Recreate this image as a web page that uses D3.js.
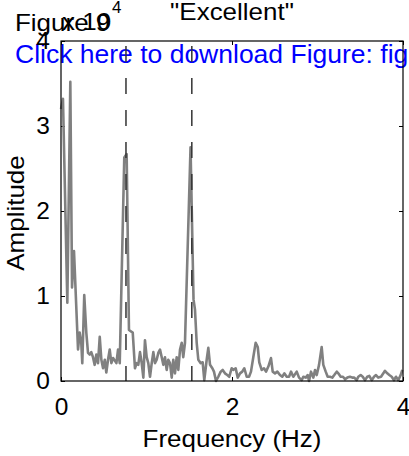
<!DOCTYPE html>
<html>
<head>
<meta charset="utf-8">
<script src="https://cdn.jsdelivr.net/npm/d3@7"></script>
<style>
  html, body { margin:0; padding:0; background:#fff; }
  svg { display:block; font-family:"Liberation Sans", Arial, Helvetica, sans-serif; }
</style>
</head>
<body>
<svg width="409" height="456"></svg>
<script>
// spectrum (amplitude in units of 10^4)
const freq = [
  0.000,0.023,0.074,0.109,0.129,0.152,0.199,0.218,0.237,0.249,
  0.272,0.296,0.316,0.336,0.354,0.374,0.394,0.413,0.433,0.453,
  0.472,0.492,0.512,0.530,0.550,0.570,0.589,0.609,0.629,0.648,
  0.667,0.687,0.740,0.768,0.795,0.839,0.865,0.885,0.904,0.924,
  0.944,0.963,0.982,1.002,1.021,1.041,1.061,1.080,1.099,1.119,
  1.138,1.158,1.178,1.197,1.216,1.236,1.255,1.275,1.295,1.313,
  1.333,1.353,1.372,1.392,1.412,1.430,1.450,1.515,1.550,1.567,
  1.587,1.606,1.634,1.657,1.676,1.704,1.723,1.743,1.770,1.789,
  1.813,1.840,1.868,1.891,1.918,1.945,1.968,1.996,2.015,2.043,
  2.067,2.094,2.120,2.144,2.172,2.199,2.222,2.249,2.277,2.301,
  2.319,2.347,2.374,2.398,2.425,2.456,2.476,2.503,2.530,2.561,
  2.588,2.612,2.640,2.667,2.690,2.717,2.757,2.784,2.815,2.834,
  2.862,2.885,2.901,2.924,2.951,2.971,2.991,3.018,3.049,3.068,
  3.096,3.119,3.146,3.173,3.196,3.225,3.243,3.271,3.298,3.322,
  3.349,3.380,3.407,3.430,3.458,3.477,3.505,3.529,3.556,3.582,
  3.606,3.634,3.661,3.684,3.711,3.743,3.770,3.789,3.816,3.840,
  3.868,3.895,3.918,3.945,3.973,3.992
];
const amp = [
  3.20,3.32,0.92,3.52,1.10,1.53,0.37,0.57,0.45,0.21,
  1.01,0.57,0.33,0.31,0.34,0.28,0.19,0.31,0.21,0.52,
  0.25,0.15,0.25,0.10,0.25,0.37,0.21,0.27,0.24,0.21,
  0.37,0.21,2.63,2.67,0.60,0.57,0.15,0.21,0.19,0.34,
  0.21,0.04,0.48,0.28,0.21,0.05,0.21,0.34,0.21,0.25,
  0.33,0.37,0.28,0.19,0.28,0.13,0.25,0.21,0.04,0.25,
  0.09,0.28,0.13,0.37,0.45,0.28,0.45,2.75,0.96,0.84,
  0.45,0.25,0.21,0.22,0.01,0.25,0.39,0.19,0.15,0.11,
  0.00,0.05,0.11,0.13,0.09,0.07,0.05,0.15,0.13,0.15,
  0.04,0.09,0.11,0.15,0.05,0.05,0.11,0.28,0.45,0.40,
  0.22,0.13,0.15,0.11,0.17,0.27,0.11,0.09,0.11,0.07,
  0.05,0.09,0.05,0.05,0.11,0.05,0.11,0.04,0.01,0.05,
  0.04,0.07,0.00,0.11,0.04,0.13,0.07,0.19,0.40,0.19,
  0.11,0.05,0.05,0.04,0.07,0.11,0.09,0.05,0.05,0.02,
  0.04,0.05,0.04,0.04,0.01,0.05,0.07,0.05,0.01,0.05,
  0.06,0.01,0.05,0.07,0.04,0.05,0.09,0.12,0.09,0.07,
  0.05,0.01,0.05,0.01,0.07,0.13
];
const markFreqs = [0.76, 1.53];       // dashed reference lines
const xTicks = [0, 2, 4];
const yTicks = [0, 1, 2, 3, 4];

const svg = d3.select("svg");
const x = d3.scaleLinear().domain([0, 4]).range([61, 403]);
const y = d3.scaleLinear().domain([0, 4]).range([381, 41]);
const SX = 1.06;   // text in the picture is a bit wider than Arial

// ---------- blue link text (underneath the plot) ----------
svg.append("text").attr("x", 15).attr("y", 63).attr("fill", "#0000ff")
  .attr("font-size", 26.5).text("Click here to download Figure: fig");

// ---------- axes ----------
const gx = svg.append("g").attr("transform", `translate(0,${y(0)})`)
  .call(d3.axisBottom(x).tickValues(xTicks).tickSize(-4).tickSizeOuter(0).tickPadding(17).tickFormat(d3.format("d")));
const gxt = svg.append("g").attr("transform", `translate(0,${y(4)})`)
  .call(d3.axisTop(x).tickValues(xTicks).tickSize(-4).tickSizeOuter(0).tickFormat(""));
const gy = svg.append("g").attr("transform", `translate(${x(0)},0)`)
  .call(d3.axisLeft(y).tickValues(yTicks).tickSize(-4).tickSizeOuter(0).tickPadding(11).tickFormat(d3.format("d")));
const gyr = svg.append("g").attr("transform", `translate(${x(4)},0)`)
  .call(d3.axisRight(y).tickValues(yTicks).tickSize(-4).tickSizeOuter(0).tickFormat(""));
[gx, gxt, gy, gyr].forEach(g => {
  g.select(".domain").remove();
  g.selectAll("line").attr("stroke", "#000");
  g.selectAll("text").attr("fill", "#000").attr("font-size", 24.5)
    .attr("font-family", "\"Liberation Sans\", Arial, sans-serif");
});

// ---------- spectrum ----------
const pts = freq.map((f, i) => [f, amp[i]]);
svg.append("path").datum(pts)
  .attr("d", d3.line().x(d => x(d[0])).y(d => y(d[1])))
  .attr("fill", "none").attr("stroke", "#808080").attr("stroke-width", 2.6)
  .attr("stroke-linejoin", "round");

// dashed markers
svg.selectAll(".mark").data(markFreqs).join("line").attr("class", "mark")
  .attr("x1", d => x(d)).attr("x2", d => x(d)).attr("y1", y(4)).attr("y2", y(0))
  .attr("stroke", "#333").attr("stroke-width", 1.5)
  .attr("stroke-dasharray", "16,16").attr("stroke-dashoffset", 27);

// box
svg.append("rect").attr("x", x(0)).attr("y", y(4))
  .attr("width", x(4) - x(0)).attr("height", y(0) - y(4))
  .attr("fill", "none").attr("stroke", "#000").attr("stroke-width", 1.2);

// ---------- labels ----------
function label(txt, px, py, size, anchor, rot) {
  return svg.append("text")
    .attr("transform", `translate(${px},${py})` + (rot ? ` rotate(${rot})` : "") + ` scale(${SX},1)`)
    .attr("text-anchor", anchor).attr("font-size", size).attr("fill", "#000").text(txt);
}
label("Frequency (Hz)", x(2), 447, 24.5, "middle");
label("Amplitude", 24, 213, 24.5, "middle", -90);
label("\"Excellent\"", 232, 20, 24.5, "middle");
label("Figure 9", 15, 31, 24.5, "start");
label("x 10", 62, 30, 24.5, "start");
label("4", 112, 13, 16, "start");
</script>
</body>
</html>
